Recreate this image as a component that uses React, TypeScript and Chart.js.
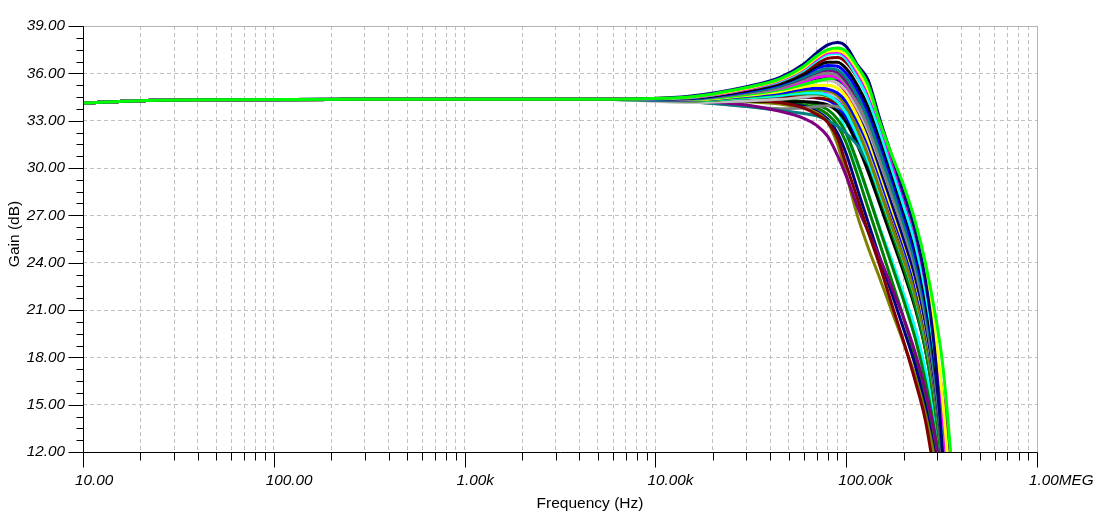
import React, { useEffect, useRef } from "react";
import { Chart, registerables } from "chart.js";

Chart.register(...registerables);

// ---- axes / ticks ----
const xDecades = [10, 100, 1000, 10000, 100000, 1000000];
const xTickLabels = ["10.00", "100.00", "1.00k", "10.00k", "100.00k", "1.00MEG"];
const xMinorSteps = [2, 3, 4, 5, 6, 7, 8, 9];
const yMajorValues = [12, 15, 18, 21, 24, 27, 30, 33, 36, 39];
const yTickLabels = ["12.00", "15.00", "18.00", "21.00", "24.00", "27.00", "30.00", "33.00", "36.00", "39.00"];
const yMinorPerMajor = 4;

// ---- data (Hz, dB) ----
const lowFreqs = [10, 20, 50, 300, 5000];
const lowGain = [34.12, 34.27, 34.33, 34.35, 34.36];
const tailFreqs = [15000, 30000, 45000, 60000, 70000, 80000, 90000, 100000, 115000, 130000, 150000, 175000, 200000, 230000, 260000, 290000, 320000, 350000, 380000];

const limeA = [34.5, 35.1, 35.65, 36.45, 37.1, 37.5, 37.6, 37.4, 36.4, 35.3, 32.9, 30.7, 28.9, 26.6, 24.0, 21.0, 17.6, 12.4, 6];
const navyA = [34.55, 35.15, 35.75, 36.6, 37.3, 37.8, 37.95, 37.7, 36.5, 35.6, 33.1, 30.6, 28.4, 26.0, 22.9, 18.6, 12.0, 5, 0];
const yellowA = [34.5, 35.05, 35.6, 36.35, 37.0, 37.4, 37.45, 37.2, 36.2, 35.0, 33.0, 30.6, 28.5, 26.0, 23.2, 19.8, 15.4, 9.5, 3];
const magentaA = [34.48, 35.0, 35.55, 36.3, 36.9, 37.3, 37.35, 37.05, 36.0, 34.8, 32.8, 30.3, 28.2, 25.8, 22.8, 19.2, 14.5, 8.5, 2];
const cyanA = [34.46, 35.0, 35.5, 36.2, 36.8, 37.2, 37.25, 36.9, 35.7, 34.4, 32.3, 29.8, 27.6, 25.2, 22.2, 18.4, 13.5, 7, 1];
const maroonA = [34.45, 34.95, 35.45, 36.1, 36.6, 36.95, 37.0, 36.7, 35.7, 34.5, 32.6, 30.2, 28.0, 25.6, 22.6, 19.0, 14.3, 8.5, 2];
const blackA = [34.42, 34.9, 35.35, 35.95, 36.45, 36.7, 36.7, 36.3, 35.2, 33.9, 31.9, 29.5, 27.3, 24.9, 21.8, 17.9, 12.8, 6.5, 0];

const blueB = [34.42, 34.85, 35.3, 35.9, 36.3, 36.5, 36.45, 36.0, 34.9, 33.6, 31.6, 29.2, 27.0, 24.5, 21.5, 17.7, 13.0, 7, 0];
const tealB = [34.4, 34.8, 35.2, 35.75, 36.1, 36.3, 36.2, 35.7, 34.5, 33.1, 31.0, 28.6, 26.5, 24.0, 21.0, 17.2, 12.4, 6.5, 0];
const purpleB = [34.4, 34.8, 35.2, 35.7, 36.05, 36.2, 36.05, 35.5, 34.4, 33.2, 31.2, 29.0, 27.0, 24.8, 22.2, 19.0, 15.6, 12.0, 6];
const grayB = [34.38, 34.75, 35.1, 35.6, 35.9, 36.0, 35.85, 35.3, 34.0, 32.6, 30.5, 28.1, 26.0, 23.6, 20.6, 16.9, 12.2, 6, 0];
const magentaB = [34.38, 34.75, 35.05, 35.5, 35.75, 35.85, 35.7, 35.2, 34.0, 32.7, 30.7, 28.4, 26.3, 24.0, 21.2, 17.6, 13.2, 7.5, 1];
const limeB = [34.35, 34.65, 34.95, 35.3, 35.5, 35.65, 35.7, 35.5, 34.7, 33.5, 31.5, 29.1, 27.0, 24.6, 21.8, 18.4, 14.3, 9, 3];
const silverB = [34.35, 34.65, 34.95, 35.3, 35.5, 35.55, 35.4, 34.9, 33.7, 32.4, 30.4, 28.1, 26.1, 23.8, 21.0, 17.5, 13.0, 7.5, 1];
const navyB = [34.35, 34.7, 35.0, 35.45, 35.7, 35.8, 35.6, 35.0, 33.7, 32.2, 30.0, 27.6, 25.5, 23.1, 20.2, 16.5, 11.8, 6, 0];

const yellowC = [34.32, 34.6, 34.85, 35.15, 35.25, 35.25, 35.05, 34.5, 33.2, 31.8, 29.7, 27.3, 25.3, 22.9, 20.0, 16.4, 11.8, 6, 0];
const blueC = [34.3, 34.55, 34.75, 35.0, 35.05, 35.0, 34.75, 34.2, 32.9, 31.5, 29.4, 27.0, 25.0, 22.6, 19.8, 16.2, 11.7, 6, 0];
const oliveC = [34.3, 34.55, 34.75, 34.95, 35.0, 34.9, 34.6, 33.9, 32.4, 30.8, 28.6, 26.2, 24.2, 21.9, 19.2, 15.8, 11.5, 6, 0];
const limeC = [34.28, 34.5, 34.7, 34.9, 34.95, 34.9, 34.7, 34.2, 33.0, 31.7, 29.7, 27.4, 25.4, 23.1, 20.4, 17.0, 12.8, 7.5, 1];
const cyanC = [34.28, 34.45, 34.6, 34.75, 34.75, 34.6, 34.2, 33.5, 32.0, 30.5, 28.4, 26.1, 24.1, 21.8, 19.1, 15.8, 11.6, 6, 0];
const greenC = [34.25, 34.45, 34.6, 34.7, 34.7, 34.55, 34.2, 33.5, 32.0, 30.4, 28.2, 25.8, 23.7, 21.3, 18.5, 15.0, 10.8, 5, 0];
const redC = [34.35, 34.7, 35.0, 35.4, 35.6, 35.6, 35.4, 34.8, 33.5, 32.1, 30.0, 27.7, 25.7, 23.4, 20.6, 17.0, 12.5, 7, 1];
const silverC = [34.15, 34.25, 34.35, 34.5, 34.6, 34.65, 34.5, 33.9, 32.6, 31.2, 29.2, 26.9, 24.9, 22.6, 19.9, 16.5, 12.2, 6.5, 0];

const maroonD = [34.3, 34.3, 34.15, 33.8, 33.4, 32.9, 31.9, 30.2, 28.0, 26.0, 23.8, 21.2, 19.0, 16.5, 14.0, 10.5, 6.5, 2, 0];
const purpleD = [34.25, 34.0, 33.6, 33.15, 32.7, 32.0, 30.8, 29.5, 27.5, 26.0, 24.3, 22.3, 20.5, 18.3, 15.9, 13.2, 10, 6, 2];
const tealD = [34.2, 33.9, 33.65, 33.45, 33.3, 33.0, 32.65, 32.2, 31.4, 30.3, 28.9, 27.0, 24.8, 22.3, 19.6, 16.5, 12.8, 8, 2];
const grayD = [34.2, 33.9, 33.75, 33.8, 33.9, 33.95, 33.9, 33.5, 32.5, 31.3, 29.3, 27.0, 24.9, 22.5, 19.8, 16.4, 12.2, 7, 1];
const blackD = [34.3, 34.25, 34.2, 34.2, 34.15, 34.0, 33.6, 32.9, 31.4, 29.8, 27.7, 25.4, 23.4, 21.1, 18.5, 15.2, 11.2, 6, 0];
const oliveD = [34.25, 34.2, 34.05, 33.8, 33.5, 32.9, 31.5, 29.6, 26.9, 25.0, 23.0, 20.8, 18.9, 16.8, 14.4, 11.6, 8, 3, 0];
const navyD = [34.28, 34.25, 34.1, 33.9, 33.6, 33.1, 32.2, 30.9, 28.6, 26.6, 24.3, 21.9, 19.8, 17.5, 14.9, 12.0, 8.5, 4, 0];
const greenD = [34.3, 34.3, 34.2, 34.0, 33.8, 33.4, 32.7, 31.6, 29.5, 27.5, 25.2, 22.7, 20.5, 18.0, 15.3, 12.3, 8.7, 4, 0];
const greenE = [34.3, 34.35, 34.3, 34.2, 34.0, 33.7, 33.1, 32.2, 30.3, 28.4, 26.1, 23.7, 21.6, 19.2, 16.5, 13.4, 9.6, 5, 0];
const maroonE = [34.35, 34.4, 34.45, 34.5, 34.45, 34.35, 34.1, 33.6, 32.4, 31.0, 28.9, 26.6, 24.6, 22.3, 19.6, 16.3, 12.2, 7, 1];
const blueD = [34.3, 34.4, 34.45, 34.5, 34.45, 34.3, 33.9, 33.2, 31.8, 30.2, 28.1, 25.8, 23.8, 21.5, 18.8, 15.5, 11.5, 6, 0];
const yellowD = [34.3, 34.45, 34.55, 34.65, 34.6, 34.45, 34.1, 33.4, 32.0, 30.5, 28.4, 26.0, 24.0, 21.7, 19.0, 15.7, 11.7, 6.5, 0];
const magentaD = [34.3, 34.45, 34.6, 34.75, 34.8, 34.7, 34.4, 33.7, 32.2, 30.6, 28.4, 26.0, 24.0, 21.7, 19.0, 15.8, 11.9, 7, 0];
const cyanD = [34.3, 34.45, 34.55, 34.65, 34.6, 34.4, 33.8, 32.2, 30.2, 28.4, 26.2, 24.0, 22.0, 19.8, 17.2, 14.2, 10.5, 6, 0];

const curveTails = [
  limeA, navyA, yellowA, magentaA, cyanA, maroonA, blackA,
  blueB, tealB, purpleB, grayB, magentaB, limeB, silverB, navyB,
  yellowC, blueC, oliveC, limeC, cyanC, greenC, redC, silverC,
  maroonD, purpleD, tealD, grayD, blackD, oliveD, navyD, greenD, greenE, maroonE, blueD, yellowD, magentaD, cyanD,
];
const curveColors = [
  "#00ff00", "#000080", "#ffff00", "#ff00ff", "#00ffff", "#800000", "#000000",
  "#0000ff", "#008080", "#800080", "#808080", "#ff00ff", "#00ff00", "#c0c0c0", "#000080",
  "#ffff00", "#0000ff", "#808000", "#00ff00", "#00ffff", "#008000", "#ff0000", "#c0c0c0",
  "#800000", "#800080", "#008080", "#808080", "#000000", "#808000", "#000080", "#008000", "#008000", "#800000", "#0000ff", "#ffff00", "#ff00ff", "#00ffff",
];

const FONT = "'Liberation Sans', Arial, Helvetica, sans-serif";
const GRID = "#c0c0c0";

const xTickValues: number[] = [];
xDecades.forEach((d, i) => {
  xTickValues.push(d);
  if (i < xDecades.length - 1) xMinorSteps.forEach((m) => xTickValues.push(d * m));
});
xTickValues.sort((a, b) => a - b);

const yTickValues: number[] = [];
yMajorValues.forEach((v, i) => {
  yTickValues.push(v);
  if (i < yMajorValues.length - 1) {
    for (let k = 1; k < yMinorPerMajor; k++) yTickValues.push(v + (3 * k) / yMinorPerMajor);
  }
});

const isDecade = (v: number) => xDecades.some((d) => Math.abs(d - v) / d < 1e-9);
const isYMajor = (v: number) => yMajorValues.some((m) => Math.abs(m - v) < 1e-9);

const framePlugin = {
  id: "frame",
  afterDraw(chart: any) {
    const { ctx, chartArea: a, scales } = chart;
    const xs = scales.x;
    const ys = scales.y;
    const L = Math.round(a.left) + 0.5;
    const R = Math.round(a.right) + 0.5;
    const T = Math.round(a.top) + 0.5;
    const B = Math.round(a.bottom) + 0.5;
    ctx.save();
    ctx.lineWidth = 1;
    ctx.setLineDash([]);
    ctx.strokeStyle = "#b4b4b4";
    ctx.beginPath();
    ctx.moveTo(L, T);
    ctx.lineTo(R, T);
    ctx.lineTo(R, B);
    ctx.stroke();
    ctx.strokeStyle = "#000";
    ctx.beginPath();
    ctx.moveTo(L, T);
    ctx.lineTo(L, B);
    ctx.lineTo(R, B);
    ctx.stroke();
    ctx.beginPath();
    ys.ticks.forEach((t: any) => {
      const py = Math.round(ys.getPixelForValue(t.value)) + 0.5;
      const len = isYMajor(t.value) ? 15 : 7;
      ctx.moveTo(L - len, py);
      ctx.lineTo(L, py);
    });
    xs.ticks.forEach((t: any) => {
      const px = Math.round(xs.getPixelForValue(t.value)) + 0.5;
      const len = isDecade(t.value) ? 15 : 8;
      ctx.moveTo(px, B);
      ctx.lineTo(px, B + len);
    });
    ctx.stroke();
    ctx.fillStyle = "#000";
    ctx.font = `15.5px ${FONT}`;
    ctx.textAlign = "center";
    ctx.textBaseline = "alphabetic";
    ctx.fillText("Frequency (Hz)", 590, 508);
    ctx.translate(19, 234);
    ctx.rotate(-Math.PI / 2);
    ctx.fillText("Gain (dB)", 0, 0);
    ctx.restore();
  },
};

export default function App() {
  const ref = useRef<HTMLCanvasElement>(null);
  useEffect(() => {
    const datasets = curveTails.map((tail, i) => ({
      label: `run ${i + 1}`,
      data: lowFreqs
        .map((f, k) => ({ x: f, y: lowGain[k] }))
        .concat(tailFreqs.map((f, k) => ({ x: f, y: tail[k] }))),
      borderColor: curveColors[i],
      backgroundColor: curveColors[i],
      borderWidth: 3,
      pointRadius: 0,
      fill: false,
      cubicInterpolationMode: "monotone" as const,
      clip: { left: 0, top: 0, right: 0, bottom: 1 },
    }));
    const chart = new Chart(ref.current as HTMLCanvasElement, {
      type: "line",
      data: { datasets },
      options: {
        animation: false,
        responsive: false,
        maintainAspectRatio: false,
        layout: { padding: { left: 0, top: 26, right: 61, bottom: 0 } },
        plugins: {
          legend: { display: false },
          tooltip: { enabled: false },
          title: { display: false },
        },
        scales: {
          x: {
            type: "logarithmic",
            min: 10,
            max: 1000000,
            afterBuildTicks: (s: any) => {
              s.ticks = xTickValues.map((v) => ({ value: v, major: isDecade(v) }));
            },
            afterFit: (s: any) => {
              s.height = 71;
              s.paddingLeft = 0;
              s.paddingRight = 0;
            },
            ticks: {
              autoSkip: false,
              maxRotation: 0,
              minRotation: 0,
              align: "start",
              labelOffset: -8,
              padding: 20,
              color: "#000",
              font: { family: FONT, size: 15.3, style: "italic" },
              callback: (v: any) => {
                const idx = xDecades.findIndex((d) => Math.abs(d - Number(v)) / d < 1e-9);
                return idx >= 0 ? xTickLabels[idx] : "";
              },
            },
            grid: { color: GRID, lineWidth: 1, drawTicks: false },
            border: { display: false, dash: [4, 3] },
          },
          y: {
            type: "linear",
            min: 12,
            max: 39,
            afterBuildTicks: (s: any) => {
              s.ticks = yTickValues.map((v) => ({ value: v }));
            },
            afterFit: (s: any) => {
              s.width = 83;
              s.paddingTop = 0;
              s.paddingBottom = 0;
            },
            ticks: {
              autoSkip: false,
              padding: 18,
              color: "#000",
              font: { family: FONT, size: 15.3, style: "italic" },
              callback: (v: any) => {
                const idx = yMajorValues.findIndex((m) => Math.abs(m - Number(v)) < 1e-9);
                return idx >= 0 ? yTickLabels[idx] : "";
              },
            },
            grid: {
              color: (c: any) => (c.tick && isYMajor(c.tick.value) ? GRID : "rgba(0,0,0,0)"),
              lineWidth: 1,
              drawTicks: false,
            },
            border: { display: false, dash: [4, 3] },
          },
        },
      } as any,
      plugins: [framePlugin],
    });
    return () => chart.destroy();
  }, []);
  return (
    <div style={{ position: "absolute", left: 0, top: 0, width: 1098, height: 523, background: "#fff" }}>
      <canvas ref={ref} width={1098} height={523} style={{ display: "block", width: 1098, height: 523 }} />
    </div>
  );
}
